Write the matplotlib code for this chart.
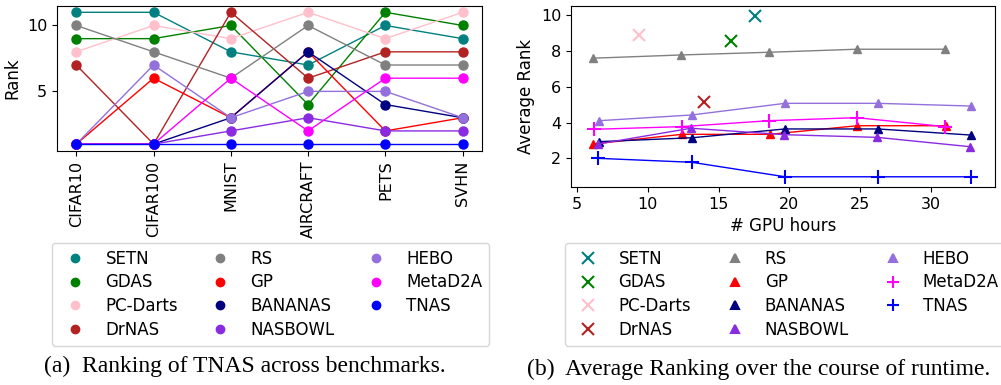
import matplotlib
matplotlib.use("Agg")
import matplotlib.pyplot as plt
from matplotlib.lines import Line2D

# ---- data ----
benchmarks = ["CIFAR10", "CIFAR100", "MNIST", "AIRCRAFT", "PETS", "SVHN"]
methods = ["SETN", "GDAS", "PC-Darts", "DrNAS", "RS", "GP", "BANANAS",
           "NASBOWL", "HEBO", "MetaD2A", "TNAS"]
colors = ["teal", "green", "pink", "firebrick", "gray", "red", "navy",
          "blueviolet", "mediumpurple", "magenta", "blue"]

# rank per benchmark (left panel)
rank_setn = [11, 11, 8, 7, 10, 9]
rank_gdas = [9, 9, 10, 4, 11, 10]
rank_pcdarts = [8, 10, 9, 11, 9, 11]
rank_drnas = [7, 1, 11, 6, 8, 8]
rank_rs = [10, 8, 6, 10, 7, 7]
rank_gp = [1, 6, 3, 8, 2, 3]
rank_bananas = [1, 1, 3, 8, 4, 3]
rank_nasbowl = [1, 1, 2, 3, 2, 2]
rank_hebo = [1, 7, 3, 5, 5, 3]
rank_metad2a = [1, 1, 6, 2, 6, 6]
rank_tnas = [1, 1, 1, 1, 1, 1]

# average rank over GPU hours (right panel)
# one-shot methods: single point
setn_hours, setn_avg = [17.6], [9.93]
gdas_hours, gdas_avg = [15.9], [8.55]
pcdarts_hours, pcdarts_avg = [9.4], [8.9]
drnas_hours, drnas_avg = [14.0], [5.13]

rs_hours = [6.15, 12.35, 18.55, 24.75, 31.0]
rs_avg = [7.59, 7.77, 7.92, 8.09, 8.09]
gp_hours = [6.15, 12.4, 18.6, 24.8, 31.05]
gp_avg = [2.80, 3.34, 3.34, 3.82, 3.82]
bananas_hours = [6.55, 13.15, 19.7, 26.25, 32.8]
bananas_avg = [2.93, 3.15, 3.64, 3.64, 3.30]
nasbowl_hours = [6.5, 13.05, 19.65, 26.2, 32.75]
nasbowl_avg = [2.80, 3.68, 3.32, 3.17, 2.65]
hebo_hours = [6.55, 13.1, 19.7, 26.25, 32.8]
hebo_avg = [4.10, 4.42, 5.07, 5.07, 4.92]
metad2a_hours = [6.2, 12.4, 18.55, 24.75, 31.0]
metad2a_avg = [3.62, 3.77, 4.10, 4.27, 3.77]
tnas_hours = [6.5, 13.1, 19.7, 26.25, 32.8]
tnas_avg = [2.0, 1.78, 0.97, 0.97, 0.97]

ranks = [rank_setn, rank_gdas, rank_pcdarts, rank_drnas, rank_rs, rank_gp,
         rank_bananas, rank_nasbowl, rank_hebo, rank_metad2a, rank_tnas]
hours = [setn_hours, gdas_hours, pcdarts_hours, drnas_hours, rs_hours, gp_hours,
         bananas_hours, nasbowl_hours, hebo_hours, metad2a_hours, tnas_hours]
avgs = [setn_avg, gdas_avg, pcdarts_avg, drnas_avg, rs_avg, gp_avg,
        bananas_avg, nasbowl_avg, hebo_avg, metad2a_avg, tnas_avg]
markers_b = ["x", "x", "x", "x", "^", "^", "^", "^", "^", "+", "+"]
msize_b = [8, 8, 8, 8, 6, 6, 6, 6, 6, 10, 10]

plt.rcParams["font.family"] = "DejaVu Sans"
plt.rcParams["font.size"] = 12
plt.rcParams["xtick.labelsize"] = 11.5
plt.rcParams["ytick.labelsize"] = 11.5

fig = plt.figure(figsize=(10.01, 3.85), dpi=100)
ax1 = fig.add_axes([0.0569, 0.6086, 0.4246, 0.3766])
ax2 = fig.add_axes([0.5704, 0.5143, 0.4236, 0.4709])

# left panel
xs = list(range(len(benchmarks)))
for name, col, r in zip(methods, colors, ranks):
    ax1.plot(xs, r, marker="o", color=col, markersize=6.5, linewidth=1, label=name)
ax1.set_xticks(xs)
ax1.set_xticklabels(benchmarks, rotation=90)
ax1.set_yticks([5, 10])
ax1.set_ylabel("Rank")

# right panel
for name, col, h, a, mk, ms in zip(methods, colors, hours, avgs, markers_b, msize_b):
    ax2.plot(h, a, marker=mk, color=col, markersize=ms, linewidth=1,
             markeredgewidth=1.5 if mk != "^" else 1, label=name)
ax2.set_xlim(4.58, 34.52)
ax2.set_ylim(0.4, 10.52)
ax2.set_xticks([5, 10, 15, 20, 25, 30])
ax2.set_yticks([2, 4, 6, 8, 10])
ax2.set_xlabel("# GPU hours")
ax2.set_ylabel("Average Rank")

# legends (markers only)
h1 = [Line2D([], [], marker="o", color=c, linestyle="none", markersize=6) for c in colors]
fig.legend(h1, methods, ncol=3, loc="upper left", mode="expand", borderaxespad=0,
           bbox_to_anchor=(0.052, 0.1, 0.4366, 0.269), fontsize=12, labelspacing=0.35)
h2 = [Line2D([], [], marker=m, color=c, linestyle="none",
             markersize=(6 if m == "^" else 9), markeredgewidth=1.5)
      for c, m in zip(colors, markers_b)]
fig.legend(h2, methods, ncol=3, loc="upper left", mode="expand", borderaxespad=0,
           bbox_to_anchor=(0.5645, 0.1, 0.44, 0.269), fontsize=12, labelspacing=0.35)

# captions
fig.text(0.245, 0.047, "(a)  Ranking of TNAS across benchmarks.", ha="center", va="center",
         family="Liberation Serif", fontsize=17)
fig.text(0.758, 0.04, "(b)  Average Ranking over the course of runtime.", ha="center",
         va="center", family="Liberation Serif", fontsize=17)

fig.savefig("out.png", dpi=100)
